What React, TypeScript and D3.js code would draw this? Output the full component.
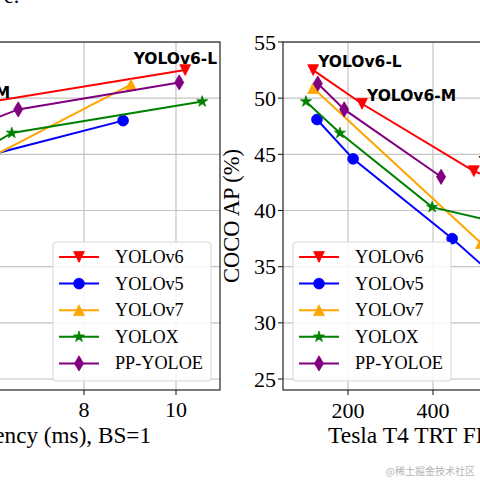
import React from "react";
import * as d3 from "d3";

// ---------- data ----------
const seriesNames = ["YOLOv6", "YOLOv5", "YOLOv7", "YOLOX", "PP-YOLOE"];
const seriesColors = ["#ff0000", "#0000ff", "#ffa500", "#008000", "#800080"];
const seriesMarkers = ["tri-down", "circle", "tri-up", "star", "thin-diamond"];

// left panel: latency (ms) vs AP
const latYOLOv6 = [10.2, 5.7, 2.9];
const latApYOLOv6 = [52.5, 49.5, 43.5];
const latYOLOv5 = [8.85, 5.63, 3.0];
const latApYOLOv5 = [48.0, 44.6, 37.5];
const latYOLOv7 = [9.02, 2.4];
const latApYOLOv7 = [51.2, 37.2];
const latYOLOX = [10.57, 6.43, 3.67];
const latApYOLOX = [49.7, 46.9, 40.3];
const latPPYOLOE = [10.07, 6.57, 2.8];
const latApPPYOLOE = [51.4, 49.0, 43.0];

// right panel: FPS vs AP
const fpsYOLOv6 = [118, 233, 496, 720];
const fpsApYOLOv6 = [52.5, 49.5, 43.5, 40.3];
const fpsYOLOv5 = [127, 212, 445, 729];
const fpsApYOLOv5 = [48.1, 44.6, 37.5, 28.0];
const fpsYOLOv7 = [118, 513];
const fpsApYOLOv7 = [50.9, 37.1];
const fpsYOLOX = [101, 181, 398, 1250];
const fpsApYOLOX = [49.7, 46.9, 40.3, 32.8];
const fpsPPYOLOE = [129, 191, 419];
const fpsApPPYOLOE = [51.3, 49.0, 43.0];

const leftXTicks = [2, 4, 6, 8, 10];
const rightXTicks = [200, 400, 600, 800, 1000, 1200];
const yTicks = [25, 30, 35, 40, 45, 50, 55];

const leftLabels = [
  { text: "YOLOv6-L", x: 10.2, y: 52.5 },
  { text: "YOLOv6-M", x: 5.7, y: 49.5 },
];
const rightLabels = [
  { text: "YOLOv6-L", x: 118, y: 52.5 },
  { text: "YOLOv6-M", x: 233, y: 49.5 },
  { text: "YOLOv6-S", x: 496, y: 43.5 },
];

const leftX = [latYOLOv6, latYOLOv5, latYOLOv7, latYOLOX, latPPYOLOE];
const leftY = [latApYOLOv6, latApYOLOv5, latApYOLOv7, latApYOLOX, latApPPYOLOE];
const rightX = [fpsYOLOv6, fpsYOLOv5, fpsYOLOv7, fpsYOLOX, fpsPPYOLOE];
const rightY = [fpsApYOLOv6, fpsApYOLOv5, fpsApYOLOv7, fpsApYOLOX, fpsApPPYOLOE];

// ---------- layout ----------
const TOP = 42;
const BOTTOM = 390;
const L_LEFT = -330;
const L_RIGHT = 220;
const R_LEFT = 283;
const R_RIGHT = 840;

const yScale = d3.scaleLinear().domain([25, 55]).range([379, 42]);
const xLeft = d3.scaleLinear().domain([8, 10]).range([84, 176]);
const xRight = d3.scaleLinear().domain([200, 400]).range([348, 433]);

const SERIF = "'Liberation Serif', 'Times New Roman', serif";
const SANS = "'DejaVu Sans', sans-serif";

function markerPath(kind: string): string {
  if (kind === "tri-down") {
    const h = 5.4;
    return `M0,${h}L${-h},${-h}L${h},${-h}Z`;
  }
  if (kind === "tri-up") {
    const h = 5.4;
    return `M0,${-h}L${-h},${h}L${h},${h}Z`;
  }
  if (kind === "circle") {
    const r = 5.4;
    return `M${r},0A${r},${r} 0 1,1 ${-r},0A${r},${r} 0 1,1 ${r},0Z`;
  }
  if (kind === "thin-diamond") {
    const r = 7.6;
    return `M0,${-r}L${0.6 * r},0L0,${r}L${-0.6 * r},0Z`;
  }
  // star
  const R = 5.8;
  const r = R * 0.381;
  let d = "";
  for (let i = 0; i < 10; i++) {
    const a = -Math.PI / 2 + (i * Math.PI) / 5;
    const rr = i % 2 === 0 ? R : r;
    d += (i === 0 ? "M" : "L") + (rr * Math.cos(a)).toFixed(2) + "," + (rr * Math.sin(a)).toFixed(2);
  }
  return d + "Z";
}

function Series({ xs, ys, xScale }: { xs: number[][]; ys: number[][]; xScale: d3.ScaleLinear<number, number> }) {
  return (
    <g>
      {seriesNames.map((name, i) => {
        const pts: [number, number][] = xs[i].map((v, j) => [xScale(v), yScale(ys[i][j])]);
        const line = d3.line()(pts) || "";
        return (
          <g key={name}>
            <path d={line} fill="none" stroke={seriesColors[i]} strokeWidth={2} />
            {pts.map((p, j) => (
              <path key={j} d={markerPath(seriesMarkers[i])} transform={`translate(${p[0]},${p[1]})`} fill={seriesColors[i]} stroke={seriesColors[i]} strokeWidth={0.8} />
            ))}
          </g>
        );
      })}
    </g>
  );
}

function Legend({ x0, y0 }: { x0: number; y0: number }) {
  const rowH = 26.6;
  return (
    <g>
      <rect x={x0} y={y0} width={158} height={139} rx={3} fill="#ffffff" fillOpacity={0.85} stroke="#d6d6d6" strokeWidth={1} />
      {seriesNames.map((name, i) => {
        const cy = y0 + 15 + i * rowH;
        return (
          <g key={name}>
            <line x1={x0 + 6} x2={x0 + 46} y1={cy} y2={cy} stroke={seriesColors[i]} strokeWidth={2} />
            <path d={markerPath(seriesMarkers[i])} transform={`translate(${x0 + 26},${cy})`} fill={seriesColors[i]} stroke={seriesColors[i]} strokeWidth={0.8} />
            <text x={x0 + 62} y={cy + 6} fontFamily={SERIF} fontSize={18.2} fill="#000">{name}</text>
          </g>
        );
      })}
    </g>
  );
}

export default function App() {
  const gridColor = "#c4c4c4";
  return (
    <svg width={480} height={480} viewBox="0 0 480 480" style={{ position: "absolute", left: 0, top: 0, background: "#fff" }}>
      <defs>
        <clipPath id="clipL">
          <rect x={L_LEFT} y={TOP} width={L_RIGHT - L_LEFT} height={BOTTOM - TOP} />
        </clipPath>
        <clipPath id="clipR">
          <rect x={R_LEFT} y={TOP} width={R_RIGHT - R_LEFT} height={BOTTOM - TOP} />
        </clipPath>
      </defs>
      <rect x={0} y={0} width={480} height={480} fill="#fff" />

      {/* fragment of page text above */}
      <text x={4} y={3} fontFamily={SERIF} fontSize={22} fill="#000">e.</text>

      {/* ---------- left panel ---------- */}
      <g clipPath="url(#clipL)">
        {leftXTicks.map((t) => (
          <line key={t} x1={xLeft(t)} x2={xLeft(t)} y1={TOP} y2={BOTTOM} stroke={gridColor} strokeWidth={1.2} />
        ))}
        {yTicks.map((t) => (
          <line key={t} x1={L_LEFT} x2={L_RIGHT} y1={yScale(t)} y2={yScale(t)} stroke={gridColor} strokeWidth={1.2} />
        ))}
        <Series xs={leftX} ys={leftY} xScale={xLeft} />
      </g>
      <rect x={L_LEFT} y={TOP} width={L_RIGHT - L_LEFT} height={BOTTOM - TOP} fill="none" stroke="#222" strokeWidth={1.2} />
      {leftXTicks.map((t) => (
        <g key={t}>
          <line x1={xLeft(t)} x2={xLeft(t)} y1={BOTTOM} y2={BOTTOM + 5} stroke="#222" strokeWidth={1.1} />
          <text x={xLeft(t)} y={417} textAnchor="middle" fontFamily={SERIF} fontSize={22} fill="#000">{t}</text>
        </g>
      ))}
      {leftLabels.map((l) => (
        <text key={l.text} x={xLeft(l.x) + 32} y={yScale(l.y) - 6} textAnchor="end" fontFamily={SANS} fontWeight="bold" fontSize={15.5} fill="#000">{l.text}</text>
      ))}
      <text x={151} y={443} textAnchor="end" fontFamily={SERIF} fontSize={23.2} fill="#000">Tesla T4 TRT Latency (ms), BS=1</text>
      <Legend x0={53} y0={242} />

      {/* ---------- right panel ---------- */}
      <g clipPath="url(#clipR)">
        {rightXTicks.map((t) => (
          <line key={t} x1={xRight(t)} x2={xRight(t)} y1={TOP} y2={BOTTOM} stroke={gridColor} strokeWidth={1.2} />
        ))}
        {yTicks.map((t) => (
          <line key={t} x1={R_LEFT} x2={R_RIGHT} y1={yScale(t)} y2={yScale(t)} stroke={gridColor} strokeWidth={1.2} />
        ))}
        <Series xs={rightX} ys={rightY} xScale={xRight} />
      </g>
      <rect x={R_LEFT} y={TOP} width={R_RIGHT - R_LEFT} height={BOTTOM - TOP} fill="none" stroke="#222" strokeWidth={1.2} />
      {rightXTicks.map((t) => (
        <g key={t}>
          <line x1={xRight(t)} x2={xRight(t)} y1={BOTTOM} y2={BOTTOM + 5} stroke="#222" strokeWidth={1.1} />
          <text x={xRight(t)} y={418} textAnchor="middle" fontFamily={SERIF} fontSize={22} fill="#000">{t}</text>
        </g>
      ))}
      {yTicks.map((t) => (
        <g key={t}>
          <line x1={R_LEFT - 5} x2={R_LEFT} y1={yScale(t)} y2={yScale(t)} stroke="#222" strokeWidth={1.1} />
          <text x={276} y={yScale(t) + 7.5} textAnchor="end" fontFamily={SERIF} fontSize={22} fill="#000">{t}</text>
        </g>
      ))}
      {rightLabels.map((l) => (
        <text key={l.text} x={xRight(l.x) + 5} y={yScale(l.y) - 3} fontFamily={SANS} fontWeight="bold" fontSize={15.5} fill="#000">{l.text}</text>
      ))}
      <text transform={`translate(239,${(TOP + BOTTOM) / 2}) rotate(-90)`} textAnchor="middle" fontFamily={SERIF} fontSize={22.5} fill="#000">COCO AP (%)</text>
      <text x={328} y={443} fontFamily={SERIF} fontSize={23.5} fill="#000">Tesla T4 TRT FPS, BS=32</text>
      <Legend x0={293} y0={242} />

      {/* watermark */}
      <text x={475} y={475} textAnchor="end" fontFamily="'Noto Sans CJK SC', sans-serif" fontSize={10} fill="#b4b4b4">@稀土掘金技术社区</text>
    </svg>
  );
}
